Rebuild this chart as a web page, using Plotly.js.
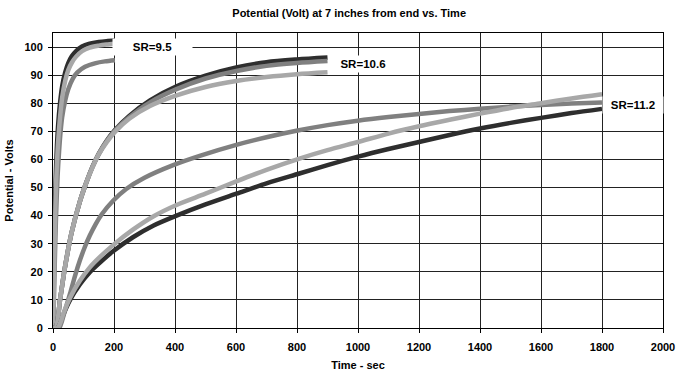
<!DOCTYPE html>
<html>
<head>
<meta charset="utf-8">
<script src="https://cdn.plot.ly/plotly-3.0.1.min.js"></script>
<style>html,body{margin:0;padding:0;background:#fff;}#chart{width:678px;height:378px;}</style>
</head>
<body>
<div id="chart"></div>
<script>
// ---- data ----
// SR = 9.5 group (ends at 200 s)
const t95Dark   = [0, 2, 4, 6, 8, 10, 13, 17, 23, 30, 40, 50, 62, 75, 95, 120, 150, 175, 203];
const v95Dark   = [0, 15, 29, 41, 50, 57, 65, 72.5, 80, 86, 91, 94.3, 96.8, 98.5, 100.2, 101.2, 101.8, 102.1, 102.3];
const t95Light  = [0, 2, 4, 6, 8, 10, 13, 17, 23, 30, 40, 50, 62, 75, 95, 120, 150, 175, 203];
const v95Light  = [0, 10, 23, 34, 43, 51, 59, 66.5, 75, 82, 88, 91.8, 94.5, 96.5, 98.5, 99.8, 100.5, 100.9, 101.2];
const t95Med    = [0, 3, 6, 10, 15, 20, 25, 30, 40, 50, 65, 80, 105, 140, 170, 203];
const v95Med    = [0, 10, 24, 40, 54, 63, 70, 75, 81, 85, 88.8, 91, 93, 94.3, 94.9, 95.3];

// SR = 10.6 group (ends at 900 s)
const t106      = [0, 10, 23, 39, 61, 88, 110, 130, 150, 175, 203, 250, 318, 405, 500, 601, 700, 800, 900];
const v106Dark  = [0, 0.5, 10, 21.5, 34, 45, 52, 57.5, 62, 66.5, 70.5, 75.5, 81, 86, 89.8, 92.7, 94.6, 95.6, 96.3];
const v106Med   = [0, 0.5, 10, 21.5, 34, 45, 52, 57.5, 62, 66.4, 70.3, 75, 80.3, 85, 88.8, 91.5, 93.3, 94.3, 95];
const v106Light = [0, 0.5, 10, 21.5, 34, 45, 52, 57.3, 61.8, 66, 69.8, 74.5, 79, 82.8, 85.8, 87.9, 89.3, 90.3, 91];

// SR = 11.2 group (ends at 1800 s)
const t112      = [0, 15, 25, 35, 56, 88, 120, 154, 197, 262, 330, 405, 500, 601, 700, 808, 900, 1000, 1100, 1200, 1300, 1400, 1500, 1600, 1700, 1800];
const v112Dark  = [0, 0, 2, 5, 10, 15.5, 19.8, 23.3, 27.3, 32.3, 36.5, 40, 44, 47.8, 51.5, 55, 58, 61, 63.7, 66.2, 68.7, 71, 73, 74.8, 76.5, 78];
const v112Light = [0, 0, 2.2, 5.5, 10.8, 16.8, 21.5, 25.3, 29.5, 35, 39.8, 43.8, 47.8, 52.2, 56.3, 60.3, 63.3, 66.2, 69.2, 71.8, 74.1, 76.3, 78.3, 80, 81.7, 83.2];
const t112Med   = [0, 20, 28, 40, 56, 72, 88, 105, 121, 140, 160, 197, 240, 300, 394, 481, 601, 700, 798, 900, 999, 1100, 1200, 1300, 1400, 1500, 1600, 1700, 1800];
const v112Med   = [0, 0, 2, 6.5, 12.3, 18.5, 24, 29, 33, 37, 40.5, 45.3, 49.5, 53.5, 58, 61.3, 65.2, 67.9, 70.2, 72.2, 73.8, 75.1, 76.2, 77.2, 78, 78.8, 79.4, 79.9, 80.3];

// labels
const groupLabels = ['SR=9.5', 'SR=10.6', 'SR=11.2'];
const labelX = [327, 1015, 1900];
const labelY = [100, 94, 79.5];
const labelW = [77, 52, 58];

const xTicks = [0, 200, 400, 600, 800, 1000, 1200, 1400, 1600, 1800, 2000];
const yTicks = [0, 10, 20, 30, 40, 50, 60, 70, 80, 90, 100];

// ---- styling ----
const DARK = '#2e2e2e', MED = '#808080', LIGHT = '#a8a8a8';
const FONT = 'Liberation Sans, Arial, sans-serif';

function line(x, y, color, w) {
  return {x: x, y: y, type: 'scatter', mode: 'lines',
          line: {color: color, width: w, shape: 'spline', smoothing: 0.8},
          hoverinfo: 'skip', showlegend: false};
}

const W = 4.5;
const traces = [
  line(t95Dark, v95Dark, DARK, W),
  line(t95Med, v95Med, MED, W),
  line(t95Light, v95Light, LIGHT, W),
  line(t106, v106Dark, DARK, W),
  line(t106, v106Med, MED, W),
  line(t106, v106Light, LIGHT, W),
  line(t112, v112Dark, DARK, W),
  line(t112Med, v112Med, MED, W),
  line(t112, v112Light, LIGHT, W)
];

const annotations = groupLabels.map((txt, i) => ({
  x: labelX[i], y: labelY[i], xref: 'x', yref: 'y',
  text: '<b>' + txt + '</b>', showarrow: false,
  bgcolor: '#ffffff', width: labelW[i], height: 14,
  font: {family: FONT, size: 11.5, color: '#000'}
}));

const layout = {
  width: 678, height: 378,
  margin: {l: 53, r: 15, t: 33, b: 50},
  paper_bgcolor: '#fff', plot_bgcolor: '#fff',
  font: {family: FONT, size: 11, color: '#000'},
  title: {text: '<b>Potential (Volt) at 7 inches from end vs. Time</b>',
          x: 0.515, xanchor: 'center', y: 0.965, yanchor: 'middle',
          font: {family: FONT, size: 11, color: '#000'}},
  xaxis: {
    range: [0, 2000], tickvals: xTicks, ticktext: xTicks.map(v => '<b>' + v + '</b>'),
    showgrid: true, gridcolor: '#222', gridwidth: 1,
    showline: true, linecolor: '#000', linewidth: 1, mirror: true,
    ticks: 'outside', ticklen: 4, tickcolor: '#000',
    ticklabelstandoff: 5,
    zeroline: false,
    tickfont: {family: FONT, size: 11, color: '#000'},
    title: {text: '<b>Time - sec</b>', standoff: 9, font: {family: FONT, size: 11, color: '#000'}}
  },
  yaxis: {
    range: [0, 105], tickvals: yTicks, ticktext: yTicks.map(v => '<b>' + v + '</b>'),
    showgrid: true, gridcolor: '#222', gridwidth: 1,
    showline: true, linecolor: '#000', linewidth: 1, mirror: true,
    ticks: 'outside', ticklen: 4, tickcolor: '#000',
    ticklabelstandoff: 3,
    zeroline: false,
    tickfont: {family: FONT, size: 11, color: '#000'},
    title: {text: '<b>Potential - Volts</b>', standoff: 8, font: {family: FONT, size: 11, color: '#000'}}
  },
  annotations: annotations
};

Plotly.newPlot('chart', traces, layout, {staticPlot: true, displayModeBar: false});
</script>
</body>
</html>
